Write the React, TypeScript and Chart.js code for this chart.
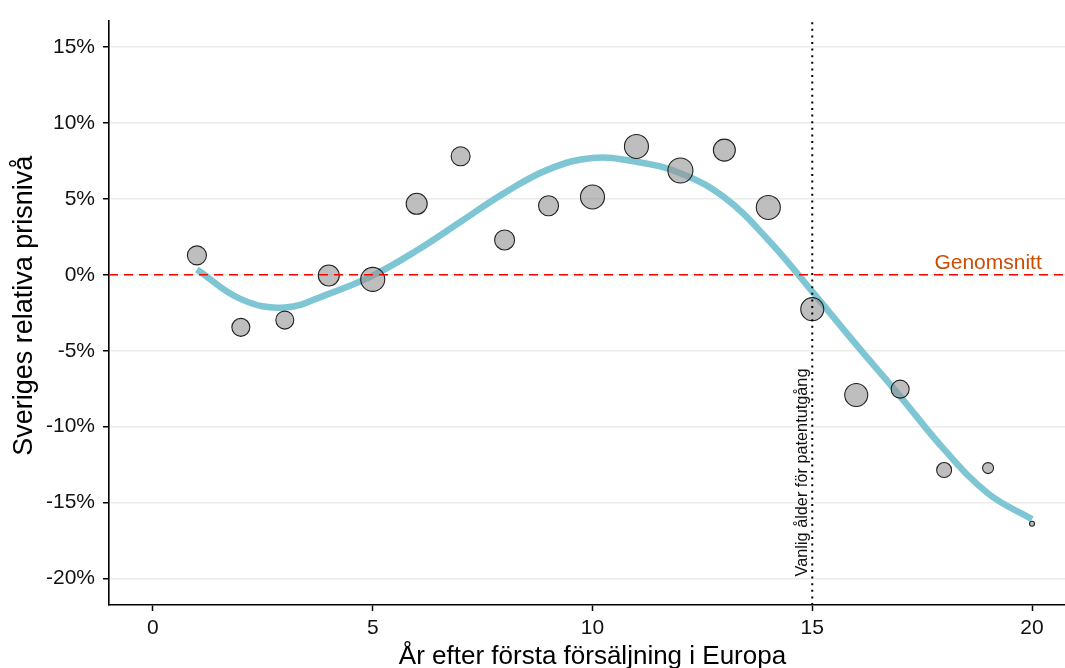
import React, { useEffect, useRef } from "react";
import { Chart, registerables } from "chart.js";

Chart.register(...registerables);

// ---- data ----
const years = [1, 2, 3, 4, 5, 6, 7, 8, 9, 10, 11, 12, 13, 14, 15, 16, 17, 18, 19, 20];
const priceLevel = [1.28, -3.46, -2.98, -0.04, -0.3, 4.68, 7.81, 2.3, 4.55, 5.13, 8.46, 6.87, 8.22, 4.44, -2.26, -7.92, -7.53, -12.86, -12.73, -16.4];
const weight = [9.5, 9, 9, 10.5, 12, 10.5, 9.5, 10, 10, 12, 12, 12.5, 11, 12, 11.5, 11.5, 9, 7.5, 5.5, 2.5];
const trendYears = [1, 2, 3, 4, 5, 6, 7, 8, 9, 10, 11, 12, 13, 14, 15, 16, 17, 18, 19, 20];
const trendLevel = [0.35, -1.6, -2.15, -1.25, -0.05, 1.6, 3.5, 5.4, 6.95, 7.7, 7.45, 6.7, 5.1, 2.3, -1.1, -4.6, -8.0, -11.5, -14.4, -16.1];
const xTicks = [0, 5, 10, 15, 20];
const yTicks = [-20, -15, -10, -5, 0, 5, 10, 15];
const averageLevel = 0;
const patentYear = 15;
const xRange = [-1, 20.75];
const yRange = [-21.75, 16.75];

const FONT = '"Liberation Sans", Arial, Helvetica, sans-serif';

export default function App() {
  const ref = useRef<HTMLCanvasElement | null>(null);

  useEffect(() => {
    const canvas = ref.current;
    if (!canvas) return;

    const annot = {
      id: "annot",
      afterDraw(chart: any) {
        const { ctx, chartArea, scales } = chart;
        const xs = scales.x;
        const ys = scales.y;
        ctx.save();
        // Genomsnitt label
        ctx.fillStyle = "#CC4C02";
        ctx.font = `21px ${FONT}`;
        ctx.textAlign = "center";
        ctx.textBaseline = "alphabetic";
        ctx.fillText("Genomsnitt", xs.getPixelForValue(19), ys.getPixelForValue(averageLevel) - 6);
        // vertical annotation
        ctx.fillStyle = "#111";
        ctx.font = `16.3px ${FONT}`;
        ctx.translate(xs.getPixelForValue(patentYear) - 5, ys.getPixelForValue(-20) - 2);
        ctx.rotate(-Math.PI / 2);
        ctx.textAlign = "left";
        ctx.textBaseline = "alphabetic";
        ctx.fillText("Vanlig ålder för patentutgång", 0, 0);
        ctx.restore();

        // axis titles
        ctx.save();
        ctx.fillStyle = "#000";
        ctx.font = `26px ${FONT}`;
        ctx.textAlign = "center";
        ctx.textBaseline = "alphabetic";
        ctx.fillText("År efter första försäljning i Europa", xs.getPixelForValue(10), 664);
        ctx.font = `27px ${FONT}`;
        ctx.translate(32, (chartArea.top + chartArea.bottom) / 2 - 7);
        ctx.rotate(-Math.PI / 2);
        ctx.fillText("Sveriges relativa prisnivå", 0, 0);
        ctx.restore();
      },
    };

    const chart = new Chart(canvas, {
      type: "bubble",
      data: {
        datasets: [
          {
            type: "line",
            label: "avg",
            data: [
              { x: xRange[0], y: averageLevel },
              { x: xRange[1], y: averageLevel },
            ],
            borderColor: "#FF0000",
            borderWidth: 1.5,
            borderDash: [9, 6],
            pointRadius: 0,
            fill: false,
            order: -2,
          } as any,
          {
            type: "line",
            label: "patent",
            data: [
              { x: patentYear, y: yRange[0] },
              { x: patentYear, y: yRange[1] },
            ],
            borderColor: "#000",
            borderWidth: 2,
            borderDash: [2, 4.6],
            pointRadius: 0,
            fill: false,
            order: -1,
          } as any,
          {
            label: "points",
            data: years.map((x, i) => ({ x, y: priceLevel[i], r: weight[i] })),
            backgroundColor: "rgba(150,150,150,0.62)",
            borderColor: "#222",
            borderWidth: 1.1,
            order: 0,
          },
          {
            type: "line",
            label: "trend",
            data: trendYears.map((x, i) => ({ x, y: trendLevel[i] })),
            borderColor: "rgb(126,198,211)",
            borderWidth: 6.5,
            tension: 0.4,
            pointRadius: 0,
            fill: false,
            order: 1,
          } as any,
        ],
      },
      options: {
        animation: false,
        responsive: false,
        events: [],
        layout: { autoPadding: false, padding: { top: 15, right: 0, left: 0, bottom: 0 } },
        plugins: {
          legend: { display: false },
          tooltip: { enabled: false },
        },
        scales: {
          x: {
            type: "linear",
            min: xRange[0],
            max: xRange[1],
            afterBuildTicks: (s: any) => {
              s.ticks = xTicks.map((v) => ({ value: v }));
            },
            afterFit: (s: any) => {
              s.height = 63;
            },
            ticks: {
              color: "#111",
              font: { family: FONT, size: 21 },
              padding: 5,
              maxRotation: 0,
              autoSkip: false,
              callback: (v: any) => String(v),
            },
            grid: {
              drawOnChartArea: false,
              drawTicks: true,
              tickLength: 6,
              tickColor: "#000",
              tickWidth: 1.5,
            },
            border: { display: true, color: "#000", width: 1.6 },
          },
          y: {
            type: "linear",
            min: yRange[0],
            max: yRange[1],
            afterBuildTicks: (s: any) => {
              s.ticks = yTicks.map((v) => ({ value: v }));
            },
            afterFit: (s: any) => {
              s.width = 109;
            },
            ticks: {
              color: "#111",
              font: { family: FONT, size: 21 },
              padding: 8,
              autoSkip: false,
              callback: (v: any) => `${v}%`,
            },
            grid: {
              color: "#EBEBEB",
              lineWidth: 1.5,
              drawTicks: true,
              tickLength: 6,
              tickColor: "#000",
              tickWidth: 1.5,
            },
            border: { display: true, color: "#000", width: 1.6 },
          },
        },
      },
      plugins: [annot],
    });

    return () => chart.destroy();
  }, []);

  return (
    <div style={{ position: "fixed", left: 0, top: 0, width: 1065, height: 668, background: "#fff", overflow: "hidden" }}>
      <canvas ref={ref} width={1065} height={668} style={{ display: "block" }} />
    </div>
  );
}
